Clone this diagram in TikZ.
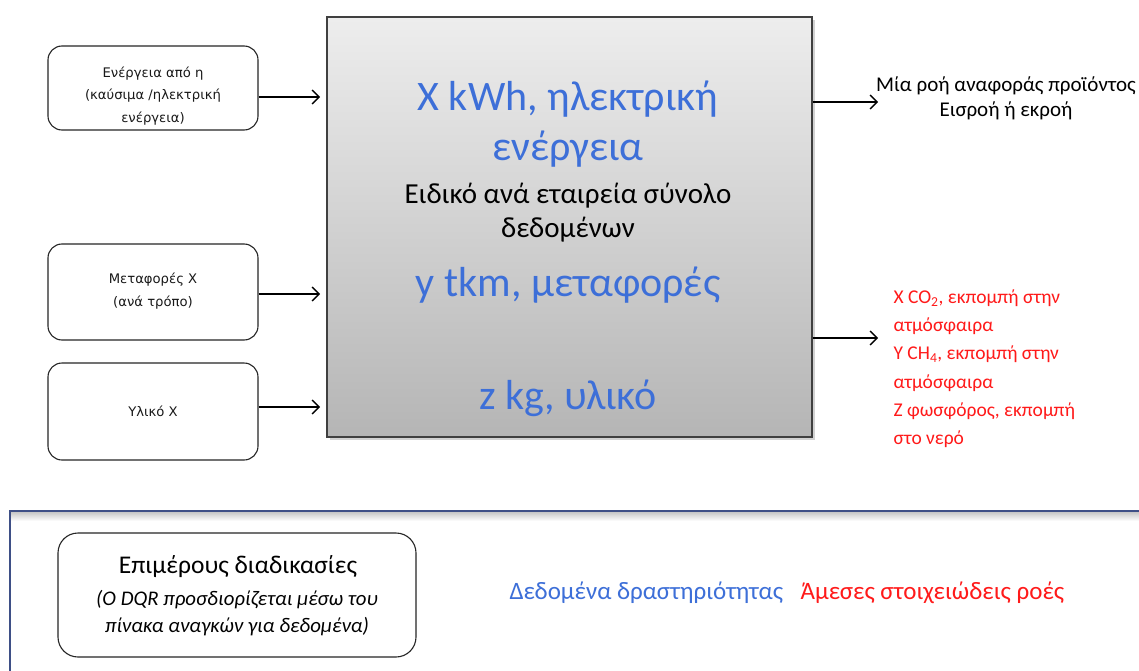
\documentclass[tikz,border=0pt]{standalone}
\usepackage{fontspec}
\setmainfont{Carlito}
\newfontfamily\boxfont{DejaVu Sans}
\usetikzlibrary{shadows,arrows.meta}
\definecolor{dblue}{HTML}{3D6FD8}
\definecolor{ered}{HTML}{FF1A1A}
\definecolor{framecol}{HTML}{3E4F86}
\begin{document}
\begin{tikzpicture}[x=1pt,y=-1pt,
  inbox/.style={draw=black!85, line width=1.1pt, rounded corners=14pt,
    minimum width=210pt, align=center},
  boxtxt/.style={align=center, font=\boxfont\fontsize{13.2}{22.5}\selectfont, text=black!90},
  mainbox/.style={draw=black!75, line width=1.3pt, minimum width=485pt, minimum height=420pt,
    top color=black!7, bottom color=black!29,
    drop shadow={shadow xshift=3pt, shadow yshift=-3pt, opacity=0.35}},
  bigtxt/.style={text=dblue, font=\fontsize{42}{50}\selectfont, align=center},
  midtxt/.style={text=black, font=\fontsize{29}{34}\selectfont, align=center},
  flow/.style={draw=black, line width=1.3pt, -{Straight Barb[length=7pt,width=14pt]}},
  sumbox/.style={draw=black!85, line width=1.1pt, rounded corners=20pt,
    minimum width=358pt, minimum height=124pt, align=center}]
\clip (0,0) rectangle (1139,671);
\fill[white] (0,0) rectangle (1139,671);

% inputs on the left
\node[inbox, minimum height=84pt] (b1) at (153,88) {};
\node[boxtxt] (b1t) at (153,96) {Ενέργεια από η\\(καύσιμα /ηλεκτρική\\ενέργεια)};
\node[inbox, minimum height=96pt] (b2) at (153,292) {};
\node[boxtxt] (b2t) at (153,291) {Μεταφορές Χ\\(ανά τρόπο)};
\node[inbox, minimum height=97pt] (b3) at (153,411.5) {};
\node[boxtxt] (b3t) at (153,411) {Υλικό Χ};

% the process box
\node[mainbox] (main) at (569.5,227) {};
\node[bigtxt] (t1) at (568,124) {Χ kWh, ηλεκτρική\\ενέργεια};
\node[midtxt] (t2) at (568,213) {Ειδικό ανά εταιρεία σύνολο\\δεδομένων};
\node[bigtxt] (t3) at (568,285) {y tkm, μεταφορές};
\node[bigtxt] (t4) at (568,398) {z kg, υλικό};

% input arrows
\coordinate (i1) at (320,97);
\coordinate (i2) at (320,294);
\coordinate (i3) at (320,407);
\draw[flow] (b1.east |- i1) -- (i1);
\draw[flow] (b2.east |- i2) -- (i2);
\draw[flow] (b3.east |- i3) -- (i3);

% outputs on the right
\coordinate (o1) at (878,102);
\coordinate (o2) at (878,338);
\draw[flow] (main.east |- o1) -- (o1);
\draw[flow] (main.east |- o2) -- (o2);
\node[align=center, font=\fontsize{21}{25}\selectfont] (ref) at (1006,98)
  {Μία ροή αναφοράς προϊόντος\\Εισροή ή εκροή};
\node[anchor=north west, align=left, text=ered, font=\fontsize{19.5}{28.3}\selectfont] (em) at (890,286)
  {Χ CO\textsubscript{2}, εκπομπή στην\\ατμόσφαιρα\\Υ CH\textsubscript{4}, εκπομπή στην\\ατμόσφαιρα\\Ζ φωσφόρος, εκπομπή\\στο νερό};

% legend frame
\shade[top color=black!22, bottom color=white] (11,512) rectangle (1139,521);
\draw[framecol, line width=1.2pt] (1150,511) -- (10,511) -- (10,690);
\node[sumbox] (leg) at (237,595) {};
\node[font=\fontsize{25.5}{30}\selectfont] (lg1) at (238,567) {Επιμέρους διαδικασίες};
\node[align=center, font=\itshape\fontsize{20.8}{27}\selectfont] (lg2) at (237,613)
  {(Ο DQR προσδιορίζεται μέσω του\\πίνακα αναγκών για δεδομένα)};
\node[anchor=west, text=dblue, font=\fontsize{25}{30}\selectfont] (lg3) at (506,593) {Δεδομένα δραστηριότητας};
\node[anchor=west, text=ered, font=\fontsize{25}{30}\selectfont] (lg4) at (797,593) {Άμεσες στοιχειώδεις ροές};
\end{tikzpicture}
\end{document}
